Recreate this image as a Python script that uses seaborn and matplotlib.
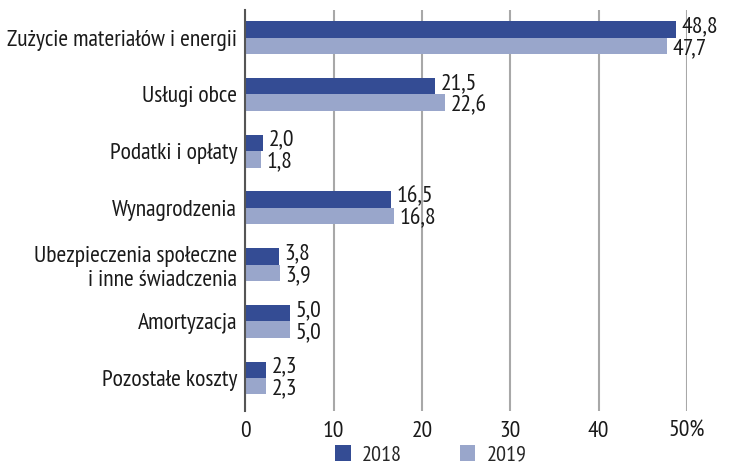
import pandas as pd
import numpy as np
import seaborn as sb
from matplotlib import pyplot as plt

# dane z wykresu (struktura kosztow, %)
kategorie = ['Zużycie materiałów i energii', 'Usługi obce', 'Podatki i opłaty',
             'Wynagrodzenia', 'Ubezpieczenia społeczne\ni inne świadczenia',
             'Amortyzacja', 'Pozostałe koszty']
lata = ['2018', '2019']
wart_2018 = [48.8, 21.5, 2.0, 16.5, 3.8, 5.0, 2.3]
wart_2019 = [47.7, 22.6, 1.8, 16.8, 3.9, 5.0, 2.3]
xticks = [0, 10, 20, 30, 40, 50]
xtick_labels = ['0', '10', '20', '30', '40', '50%']

df = pd.DataFrame({
    'kategoria': kategorie * 2,
    'rok': [lata[0]] * len(kategorie) + [lata[1]] * len(kategorie),
    'wartosc': wart_2018 + wart_2019,
})

sb.set_style('white')
plt.rcParams['font.family'] = ['PT Sans Narrow', 'DejaVu Sans']
fs = 17

fig = plt.figure(figsize=(7.37, 4.68), dpi=100)
ax = fig.add_axes([0.333, 0.122, 0.599, 0.857])

sb.barplot(data=df, y='kategoria', x='wartosc', hue='rok', orient='h',
           palette=['#344C94', '#99A6CB'], saturation=1, width=0.58, gap=0,
           ax=ax, edgecolor='none', legend=True)

# etykiety: 2018 troche wyzej, 2019 troche nizej
for cont, dy in zip(ax.containers, [2, -2]):
    labs = [f'{b.get_width():.1f}'.replace('.', ',') for b in cont]
    txts = ax.bar_label(cont, labels=labs, padding=4, fontsize=fs, color='#1a1a1a')
    for t in txts:
        t.xyann = (t.xyann[0], dy)

ax.set_xlim(0, 50)
ax.set_ylim(6.58, -0.49)
ax.set_xticks(xticks)
ax.set_xticklabels(xtick_labels)
ax.tick_params(axis='both', labelsize=fs, length=0, colors='#1a1a1a')
ax.tick_params(axis='x', pad=7)
ax.tick_params(axis='y', pad=6)
ax.set_xlabel('')
ax.set_ylabel('')
ax.set_axisbelow(True)
ax.grid(axis='x', color='#A8A8A8', linewidth=1.5)
for s in ['top', 'right', 'bottom']:
    ax.spines[s].set_visible(False)
ax.spines['left'].set_color('#555555')
ax.spines['left'].set_linewidth(1.5)

ax.legend(loc='center', bbox_to_anchor=(0.42, -0.11), ncol=2, frameon=False,
          fontsize=16, handlelength=0.7, handleheight=0.7, columnspacing=2.6,
          handletextpad=0.5, borderpad=0)

fig.savefig('out.png', dpi=100)
